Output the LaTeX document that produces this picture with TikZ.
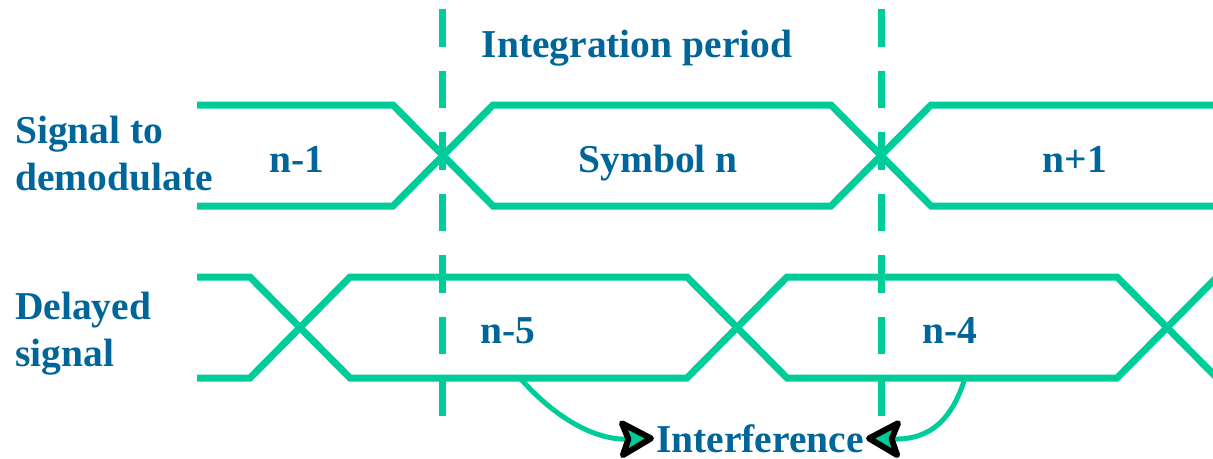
\documentclass[tikz,border=0pt]{standalone}
\usepackage{fontspec}
\setmainfont{Liberation Serif}
\usetikzlibrary{arrows.meta}
\definecolor{siggreen}{HTML}{00CC99}
\definecolor{txtblue}{HTML}{006699}

\begin{document}
\begin{tikzpicture}[
    x=1pt, y=-1pt,
    wave/.style={draw=siggreen, line width=7pt},
    period/.style={draw=siggreen, line width=7pt, dash pattern=on 37.5pt off 24pt},
    lbl/.style={font=\fontsize{39.5}{47}\selectfont\bfseries, text=txtblue, inner sep=0pt, align=#1},
    lbl/.default=center,
    hook/.style={draw=siggreen, line width=5pt,
                 -{Stealth[length=40pt, width=44pt, inset=8pt, round, line width=6pt, color=black, fill=siggreen]}}
]
\useasboundingbox (0,0) rectangle (1213,458);

% Integration period markers
\draw[period] (442,9) -- (442,418);
\draw[period] (881,9) -- (881,418);

% Signal to demodulate
\draw[wave] (197,105) -- (393,105) -- (493,206) -- (831,206) -- (931,105) -- (1213,105);
\draw[wave] (197,206) -- (393,206) -- (493,105) -- (831,105) -- (931,206) -- (1213,206);

% Delayed signal
\draw[wave] (197,277) -- (250,277) -- (350,378) -- (687,378) -- (787,277) -- (1117,277) -- (1217,378);
\draw[wave] (197,378) -- (250,378) -- (350,277) -- (687,277) -- (787,378) -- (1117,378) -- (1217,277);

% Labels
\node[lbl, anchor=base] at (637,57) (intper) {Integration period};
\node[lbl=left, anchor=base west] at (15,190) (sigdem) {Signal to\\demodulate};
\node[lbl=left, anchor=base west] at (15,366) (delsig) {Delayed\\signal};
\node[lbl, anchor=base] at (297,172) (sprev) {n-1};
\node[lbl, anchor=base] at (658,172) (scur) {Symbol n};
\node[lbl, anchor=base] at (1075,172) (snext) {n+1};
\node[lbl, anchor=base] at (508,343) (dfive) {n-5};
\node[lbl, anchor=base] at (950,343) (dfour) {n-4};
\node[lbl, anchor=base, inner xsep=2pt] at (760,452) (intf) {Interference};

% Interference hooks
\coordinate (hkfive) at (520,378);
\coordinate (hkfour) at (965,378);
\draw[hook] (hkfive) .. controls (555,418) and (595,440) .. (intf.west);
\draw[hook] (hkfour) .. controls (952,420) and (930,440) .. (intf.east);

\end{tikzpicture}
\end{document}
